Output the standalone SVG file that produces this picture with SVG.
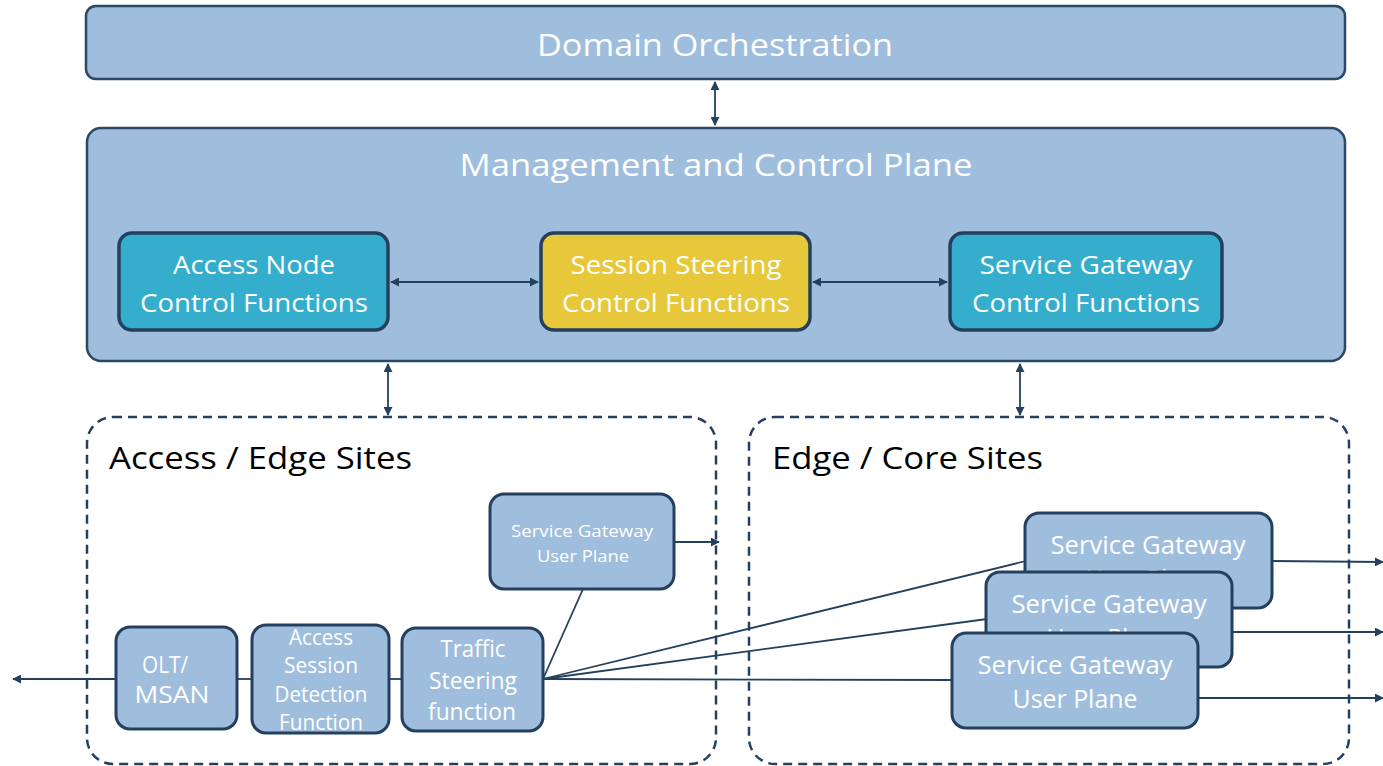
<svg xmlns="http://www.w3.org/2000/svg" width="1383" height="766" viewBox="0 0 1383 766">
  <style>
    .panel { fill: #9FBDDC; stroke: #2A4868; stroke-width: 2.5; }
    .ctl { stroke: #24405E; stroke-width: 3.5; }
    .teal { fill: #35AECE; }
    .gold { fill: #E7C83A; }
    .up { fill: #9FBDDC; stroke: #24405E; stroke-width: 3; }
    .site { fill: none; stroke: #24405E; stroke-width: 2.5; stroke-dasharray: 9 6; }
    .wire { fill: none; stroke: #24405E; stroke-width: 1.8; }
    text { font-family: "Open Sans", "Liberation Sans", sans-serif; fill: #FFFFFF; text-anchor: middle; }
    .site-label { fill: #000000; text-anchor: start; font-size: 31px; }
  </style>
  <defs>
    <marker id="head" viewBox="0 0 10 10" refX="9" refY="5" markerWidth="5" markerHeight="5" orient="auto-start-reverse" markerUnits="strokeWidth">
      <path d="M0,0 L10,5 L0,10 z" fill="#24405E"/>
    </marker>
  </defs>

  <!-- top orchestration layer -->
  <g id="domain-orchestration">
    <rect class="panel" x="86" y="6" width="1259" height="73" rx="10"/>
    <text x="715" y="56" font-size="31" textLength="356" lengthAdjust="spacingAndGlyphs">Domain Orchestration</text>
  </g>

  <!-- management and control plane -->
  <g id="management-control-plane">
    <rect class="panel" x="87" y="128" width="1258" height="233" rx="14"/>
    <text x="716" y="176" font-size="31" textLength="513" lengthAdjust="spacingAndGlyphs">Management and Control Plane</text>
  </g>

  <g id="access-node-control">
    <rect class="ctl teal" x="119" y="233" width="269" height="97" rx="13"/>
    <text x="254" y="274" font-size="26" textLength="162" lengthAdjust="spacingAndGlyphs">Access Node</text>
    <text x="254" y="312" font-size="26" textLength="228" lengthAdjust="spacingAndGlyphs">Control Functions</text>
  </g>

  <g id="session-steering-control">
    <rect class="ctl gold" x="541" y="233" width="269" height="97" rx="13"/>
    <text x="676" y="274" font-size="26" textLength="211" lengthAdjust="spacingAndGlyphs">Session Steering</text>
    <text x="676" y="312" font-size="26" textLength="228" lengthAdjust="spacingAndGlyphs">Control Functions</text>
  </g>

  <g id="service-gateway-control">
    <rect class="ctl teal" x="950" y="233" width="272" height="97" rx="13"/>
    <text x="1086" y="274" font-size="26" textLength="213" lengthAdjust="spacingAndGlyphs">Service Gateway</text>
    <text x="1086" y="312" font-size="26" textLength="228" lengthAdjust="spacingAndGlyphs">Control Functions</text>
  </g>

  <!-- site groupings -->
  <g id="access-edge-sites">
    <rect class="site" x="87" y="417" width="629" height="347" rx="26"/>
    <text class="site-label" x="109" y="469" textLength="303" lengthAdjust="spacingAndGlyphs">Access / Edge Sites</text>
  </g>

  <g id="edge-core-sites">
    <rect class="site" x="749" y="417" width="600" height="347" rx="26"/>
    <text class="site-label" x="772" y="469" textLength="271" lengthAdjust="spacingAndGlyphs">Edge / Core Sites</text>
  </g>

  <!-- connectors -->
  <g id="connectors">
    <line class="wire" x1="715" y1="82" x2="715" y2="125" marker-start="url(#head)" marker-end="url(#head)"/>
    <line class="wire" x1="391" y1="282" x2="538" y2="282" marker-start="url(#head)" marker-end="url(#head)"/>
    <line class="wire" x1="813" y1="282" x2="947" y2="282" marker-start="url(#head)" marker-end="url(#head)"/>
    <line class="wire" x1="388" y1="364" x2="388" y2="415" marker-start="url(#head)" marker-end="url(#head)"/>
    <line class="wire" x1="1020" y1="364" x2="1020" y2="415" marker-start="url(#head)" marker-end="url(#head)"/>
    <line class="wire" x1="674" y1="542" x2="719" y2="542" marker-end="url(#head)"/>
    <line class="wire" x1="116" y1="679" x2="13" y2="679" marker-end="url(#head)"/>
    <line class="wire" x1="237" y1="679" x2="252" y2="679"/>
    <line class="wire" x1="389" y1="679" x2="402" y2="679"/>
    <line class="wire" x1="543" y1="679" x2="952" y2="680"/>
    <line class="wire" x1="543" y1="679" x2="583" y2="589"/>
    <line class="wire" x1="543" y1="679" x2="1026" y2="561"/>
    <line class="wire" x1="543" y1="679" x2="987" y2="619"/>
    <line class="wire" x1="1272" y1="561" x2="1383" y2="562" marker-end="url(#head)"/>
    <line class="wire" x1="1232" y1="632" x2="1383" y2="632" marker-end="url(#head)"/>
    <line class="wire" x1="1198" y1="698" x2="1383" y2="698" marker-end="url(#head)"/>
  </g>

  <!-- access / edge site functions -->
  <g id="sgw-user-plane-edge">
    <rect class="up" x="490" y="494" width="184" height="95" rx="14"/>
    <text x="582" y="537" font-size="17" textLength="142" lengthAdjust="spacingAndGlyphs">Service Gateway</text>
    <text x="583" y="562" font-size="17" textLength="92" lengthAdjust="spacingAndGlyphs">User Plane</text>
  </g>

  <g id="olt-msan">
    <rect class="up" x="116" y="627" width="121" height="102" rx="14"/>
    <text x="165" y="673" font-size="24" textLength="46" lengthAdjust="spacingAndGlyphs">OLT/</text>
    <text x="172" y="703" font-size="24" textLength="75" lengthAdjust="spacingAndGlyphs">MSAN</text>
  </g>

  <g id="access-session-detection">
    <rect class="up" x="252" y="625" width="137" height="108" rx="14"/>
    <text x="321" y="645" font-size="22" textLength="64" lengthAdjust="spacingAndGlyphs">Access</text>
    <text x="321" y="673" font-size="22" textLength="74" lengthAdjust="spacingAndGlyphs">Session</text>
    <text x="321" y="702" font-size="22" textLength="93" lengthAdjust="spacingAndGlyphs">Detection</text>
    <text x="321" y="730" font-size="22" textLength="84" lengthAdjust="spacingAndGlyphs">Function</text>
  </g>

  <g id="traffic-steering">
    <rect class="up" x="402" y="628" width="141" height="103" rx="14"/>
    <text x="473" y="657" font-size="24" textLength="65" lengthAdjust="spacingAndGlyphs">Traffic</text>
    <text x="473" y="689" font-size="24" textLength="88" lengthAdjust="spacingAndGlyphs">Steering</text>
    <text x="472" y="720" font-size="24" textLength="88" lengthAdjust="spacingAndGlyphs">function</text>
  </g>

  <!-- stacked service gateway user planes in edge / core sites -->
  <g id="sgw-user-plane-1">
    <rect class="up" x="1025" y="513" width="247" height="95" rx="14"/>
    <text x="1148" y="554" font-size="26" textLength="195" lengthAdjust="spacingAndGlyphs">Service Gateway</text>
    <text x="1148" y="588" font-size="26" textLength="125" lengthAdjust="spacingAndGlyphs">User Plane</text>
  </g>

  <g id="sgw-user-plane-2">
    <rect class="up" x="986" y="572" width="246" height="95" rx="14"/>
    <text x="1109" y="613" font-size="26" textLength="195" lengthAdjust="spacingAndGlyphs">Service Gateway</text>
    <text x="1109" y="647" font-size="26" textLength="125" lengthAdjust="spacingAndGlyphs">User Plane</text>
  </g>

  <g id="sgw-user-plane-3">
    <rect class="up" x="952" y="633" width="246" height="95" rx="14"/>
    <text x="1075" y="674" font-size="26" textLength="195" lengthAdjust="spacingAndGlyphs">Service Gateway</text>
    <text x="1075" y="708" font-size="26" textLength="125" lengthAdjust="spacingAndGlyphs">User Plane</text>
  </g>
</svg>
